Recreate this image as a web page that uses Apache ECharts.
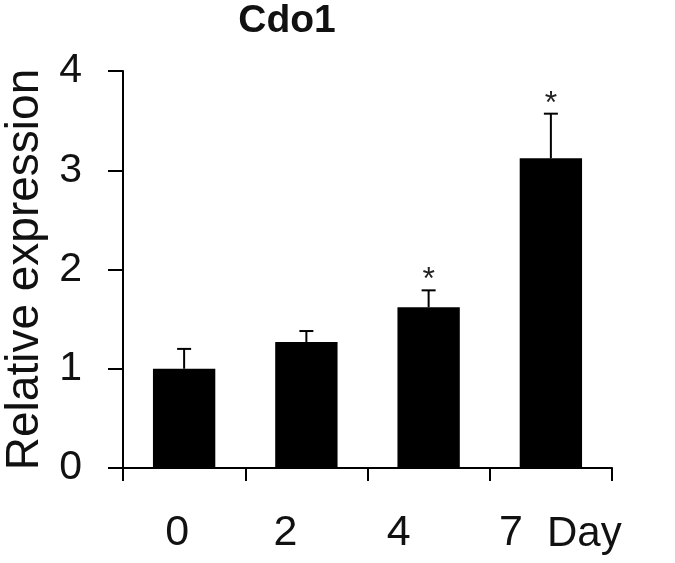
<!DOCTYPE html>
<html>
<head>
<meta charset="utf-8">
<script src="https://cdn.jsdelivr.net/npm/echarts@6/dist/echarts.min.js"></script>
<style>
html,body{margin:0;padding:0;background:#fff;}
#chart{width:675px;height:563px;}
</style>
</head>
<body>
<div id="chart"></div>
<script>
var titleText = 'Cdo1';
var categories = ['0', '2', '4', '7'];
var means = [1.0, 1.27, 1.62, 3.12];
var errors = [0.2, 0.11, 0.17, 0.45];
var sig = ['', '', '*', '*'];
var yTicks = [0, 1, 2, 3, 4];
var yName = 'Relative expression';
var xName = 'Day';

var FONT = '"Liberation Sans", Arial, sans-serif';
var labelShift = [7, 21, 30, 40];
var rich = {};
labelShift.forEach(function (s, i) {
  rich['l' + i] = { fontSize: 43, fontFamily: FONT, color: '#111', padding: [0, 2 * s, 0, 0] };
});

var chart = echarts.init(document.getElementById('chart'));
chart.setOption({
  backgroundColor: '#fff',
  animation: false,
  title: {
    text: titleText,
    left: 282,
    textAlign: 'center',
    top: -3,
    textStyle: { fontFamily: FONT, fontWeight: 'bold', fontSize: 39, color: '#111' }
  },
  grid: { left: 123, right: 63, top: 71, bottom: 95, containLabel: false, outerBoundsMode: 'none' },
  xAxis: {
    type: 'category',
    data: categories,
    boundaryGap: true,
    name: xName,
    nameLocation: 'end',
    nameGap: -65,
    nameTextStyle: { fontFamily: FONT, fontSize: 42, color: '#111', verticalAlign: 'top', padding: [45, 0, 0, 0] },
    axisLine: { lineStyle: { color: '#000', width: 2 } },
    axisTick: { show: true, alignWithLabel: false, length: 13, lineStyle: { color: '#000', width: 2 } },
    axisLabel: {
      margin: 44,
      formatter: function (v, i) { return '{l' + i + '|' + v + '}'; },
      rich: rich
    },
    splitLine: { show: false }
  },
  yAxis: {
    type: 'value',
    min: yTicks[0],
    max: yTicks[yTicks.length - 1],
    interval: 1,
    name: yName,
    nameLocation: 'middle',
    nameGap: 74,
    nameRotate: 90,
    nameTextStyle: { fontFamily: FONT, fontSize: 46, color: '#111' },
    axisLine: { show: true, lineStyle: { color: '#000', width: 2 } },
    axisTick: { show: true, length: 15, lineStyle: { color: '#000', width: 2 } },
    axisLabel: { margin: 41, fontFamily: FONT, fontSize: 41, color: '#111' },
    splitLine: { show: false }
  },
  series: [
    {
      type: 'bar',
      data: means,
      barWidth: '51%',
      itemStyle: { color: '#000' },
      z: 2
    },
    {
      type: 'custom',
      z: 3,
      data: means.map(function (m, i) { return [i, m, m + errors[i], sig[i]]; }),
      renderItem: function (params, api) {
        var x = api.value(0);
        var base = api.coord([x, api.value(1)]);
        var top = api.coord([x, api.value(2)]);
        var half = 7;
        var children = [
          { type: 'line', shape: { x1: base[0], y1: base[1], x2: top[0], y2: top[1] }, style: { stroke: '#000', lineWidth: 2 } },
          { type: 'line', shape: { x1: top[0] - half, y1: top[1], x2: top[0] + half, y2: top[1] }, style: { stroke: '#000', lineWidth: 2 } }
        ];
        var s = sig[params.dataIndex];
        if (s) {
          children.push({
            type: 'text',
            style: { text: s, x: top[0], y: top[1] + 6, align: 'center', verticalAlign: 'bottom', fontSize: 32, fontFamily: FONT, fill: '#222' }
          });
        }
        return { type: 'group', children: children };
      }
    }
  ]
});
</script>
</body>
</html>
